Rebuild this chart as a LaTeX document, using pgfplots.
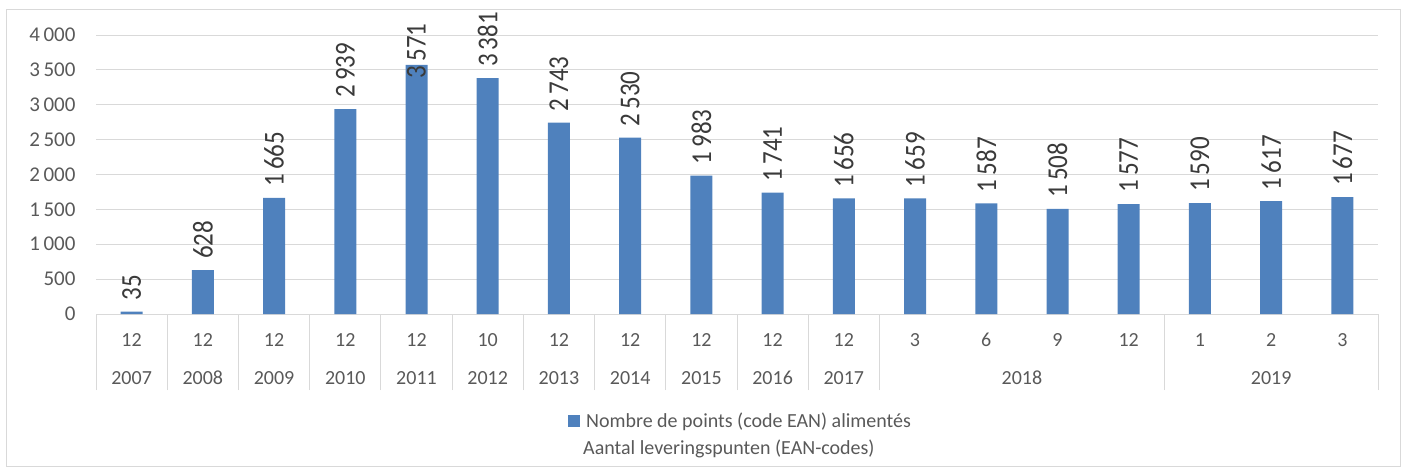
\documentclass[border=0pt]{standalone}
\usepackage{pgfplots}
\pgfplotsset{compat=1.18}
\usepackage{fontspec}
\setmainfont{Carlito}
\definecolor{barblue}{HTML}{4F81BD}
\definecolor{gridgray}{HTML}{D9D9D9}
\definecolor{txtgray}{HTML}{595959}
\definecolor{lblgray}{HTML}{3A3A3A}
\begin{document}
\begin{tikzpicture}[x=1pt,y=1pt]
\useasboundingbox (0,0) rectangle (1408,-470);
\draw[gridgray, line width=1pt] (6,-10) rectangle (1400,-466);
\begin{axis}[
  at={(96pt,-314pt)}, anchor=south west,
  scale only axis, width=1282pt, height=279pt,
  xmin=-0.5, xmax=17.5, ymin=0, ymax=4000,
  axis line style={draw=none},
  clip=false,
  ytick={0,500,...,4000},
  ymajorgrids, grid style={gridgray, line width=1pt},
  ytick style={draw=none},
  /pgf/number format/assume math mode=true,
  /pgf/number format/1000 sep={\,},
  yticklabel style={font=\fontsize{21}{24}\selectfont, text=txtgray, xshift=-17pt},
  xtick={0,...,17},
  xticklabels={12,12,12,12,12,10,12,12,12,12,12,3,6,9,12,1,2,3},
  xtick pos=left,
  tick align=outside,
  major tick length=0pt,
  minor xtick={-0.5,0.5,...,10.5,14.5,17.5},
  minor tick length=76pt,
  every minor x tick/.append style={gridgray, line width=1pt},
  xticklabel style={font=\fontsize{20}{24}\selectfont, text=txtgray, anchor=center, yshift=-26pt},
  extra x ticks={0,1,2,3,4,5,6,7,8,9,10,12.5,16},
  extra x tick labels={2007,2008,2009,2010,2011,2012,2013,2014,2015,2016,2017,2018,2019},
  extra x tick style={grid=none, major tick length=0pt, xticklabel style={yshift=-38pt}},
  legend style={at={(0.3682,-0.3835)}, anchor=west, draw=none, fill=none, inner sep=0pt,
    font=\fontsize{20}{24}\selectfont, text=txtgray,
    /tikz/every odd column/.append style={column sep=5pt}},
]
\addplot[ybar, bar width=22pt, fill=barblue, draw=none, forget plot]
  coordinates {(0,35) (1,628) (2,1665) (3,2939) (4,3571) (5,3381) (6,2743) (7,2530) (8,1983)
  (9,1741) (10,1656) (11,1659) (12,1587) (13,1508) (14,1577) (15,1590) (16,1617) (17,1677)};
\addlegendimage{legend image code/.code={\fill[barblue] (0pt,-5.5pt) rectangle (10.5pt,5.5pt);}}
\addlegendentry{Nombre de points (code EAN) alimentés}
\addplot[draw=none, forget plot, point meta=explicit,
  nodes near coords={\pgfmathprintnumber[fixed,precision=0]{\pgfplotspointmeta}},
  every node near coord/.append style={font=\fontsize{25}{28}\selectfont, text=lblgray,
    inner sep=0pt, yshift=11pt, xscale=1.15, rotate=90, anchor=west}]
  coordinates {(0,35)[35] (1,628)[628] (2,1665)[1665] (3,2939)[2939] (4,3220)[3571] (5,3381)[3381]
  (6,2743)[2743] (7,2530)[2530] (8,1983)[1983] (9,1741)[1741] (10,1656)[1656] (11,1659)[1659]
  (12,1587)[1587] (13,1508)[1508] (14,1577)[1577] (15,1590)[1590] (16,1617)[1617] (17,1677)[1677]};
\end{axis}
\node[anchor=base west, inner sep=0pt, font=\fontsize{20}{24}\selectfont, text=txtgray]
  at (583,-454) {Aantal leveringspunten (EAN-codes)};
\end{tikzpicture}
\end{document}
